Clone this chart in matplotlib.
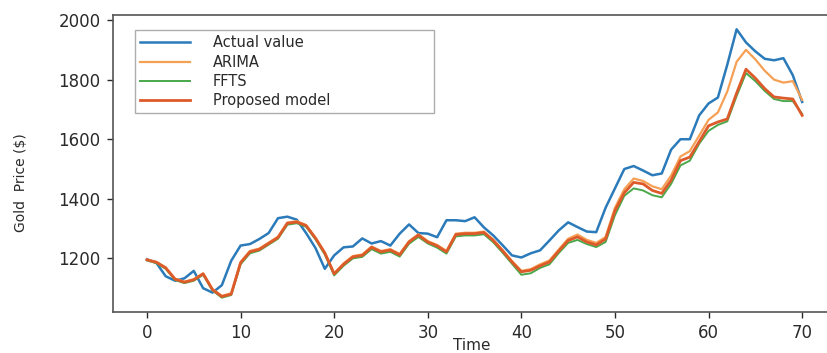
import matplotlib
matplotlib.use("Agg")
import matplotlib.pyplot as plt

time = list(range(71))

actual = [1197, 1185, 1140, 1125, 1133, 1158, 1100, 1085, 1110, 1192,
          1243, 1248, 1265, 1285, 1335, 1340, 1330, 1285, 1235, 1165,
          1210, 1237, 1240, 1267, 1250, 1258, 1243, 1283, 1314, 1285,
          1283, 1271, 1328, 1328, 1325, 1338, 1304, 1277, 1244, 1210,
          1203, 1217, 1227, 1260, 1294, 1321, 1305, 1290, 1288, 1370,
          1435, 1500, 1510, 1495, 1479, 1485, 1565, 1600, 1600, 1680,
          1720, 1740, 1850, 1969, 1925, 1895, 1870, 1865, 1872, 1815,
          1725]

arima = [1196, 1188, 1170, 1132, 1122, 1130, 1150, 1097, 1074, 1083,
         1188, 1225, 1233, 1253, 1273, 1320, 1325, 1312, 1270, 1220,
         1150, 1183, 1208, 1213, 1240, 1225, 1231, 1215, 1258, 1281,
         1258, 1245, 1225, 1283, 1286, 1286, 1290, 1263, 1228, 1191,
         1158, 1164, 1180, 1193, 1230, 1266, 1280, 1262, 1252, 1272,
         1370, 1432, 1468, 1460, 1442, 1432, 1478, 1542, 1560, 1612,
         1665, 1690, 1760, 1860, 1900, 1868, 1830, 1800, 1790, 1795,
         1732]

ffts = [1193, 1184, 1165, 1127, 1117, 1125, 1145, 1092, 1068, 1077,
        1180, 1217, 1226, 1246, 1266, 1313, 1318, 1306, 1264, 1213,
        1143, 1175, 1200, 1205, 1231, 1216, 1222, 1206, 1249, 1272,
        1250, 1236, 1216, 1274, 1277, 1277, 1281, 1254, 1219, 1182,
        1145, 1150, 1168, 1180, 1218, 1252, 1262, 1248, 1238, 1255,
        1345, 1410, 1435, 1428, 1412, 1405, 1450, 1512, 1528, 1585,
        1628, 1648, 1660, 1745, 1822, 1795, 1762, 1735, 1728, 1728,
        1685]

proposed = [1195, 1187, 1168, 1130, 1120, 1128, 1148, 1095, 1072, 1080,
            1185, 1222, 1230, 1250, 1270, 1318, 1322, 1310, 1268, 1218,
            1148, 1180, 1205, 1210, 1237, 1222, 1228, 1212, 1255, 1278,
            1255, 1242, 1222, 1280, 1283, 1283, 1287, 1260, 1225, 1188,
            1155, 1160, 1175, 1188, 1225, 1260, 1272, 1255, 1245, 1265,
            1360, 1420, 1455, 1450, 1428, 1418, 1462, 1528, 1540, 1592,
            1645, 1658, 1668, 1755, 1835, 1805, 1770, 1742, 1738, 1735,
            1680]

labels = ["Actual value", "ARIMA", "FFTS", "Proposed model"]
xticks = [0, 10, 20, 30, 40, 50, 60, 70]
yticks = [1200, 1400, 1600, 1800, 2000]

fig = plt.figure(figsize=(8.27, 3.53), dpi=100)
ax = fig.add_axes([113/827, 41/353, 735/827, 297/353])

ax.plot(time, actual, color="#2b7bba", lw=1.8, label=labels[0])
ax.plot(time, arima, color="#f5a055", lw=1.6, label=labels[1])
ax.plot(time, ffts, color="#4aa84a", lw=1.4, label=labels[2])
ax.plot(time, proposed, color="#dd5a2a", lw=2.0, label=labels[3])

ax.set_xlim(-3.63, 74.9)
ax.set_ylim(1020, 2017)
ax.set_xticks(xticks)
ax.set_yticks(yticks)
ax.tick_params(axis="both", labelsize=12, colors="#2a2a2a", length=4, width=1)
ax.tick_params(axis="y", pad=5)
ax.tick_params(axis="x", pad=5)
for s in ax.spines.values():
    s.set_color("#555555")
    s.set_linewidth(1.2)

ax.set_xlabel("Time", fontsize=11, color="#2a2a2a")
ax.xaxis.set_label_coords(0.488, -0.088)
ax.set_ylabel("Gold  Price ($)", fontsize=10, color="#2a2a2a")
ax.yaxis.set_label_coords(-0.116, 0.434)

leg = ax.legend(loc="upper left", bbox_to_anchor=(0.030, 0.655, 0.407, 0.294),
                mode="expand", fontsize=10.5, labelspacing=0.3,
                handlelength=3.4, handletextpad=1.6, fancybox=False,
                borderaxespad=0, borderpad=0.35, frameon=True)
leg.get_frame().set_edgecolor("#999999")
leg.get_frame().set_linewidth(1.0)
for t in leg.get_texts():
    t.set_color("#2a2a2a")

fig.savefig("out.png", dpi=100)
